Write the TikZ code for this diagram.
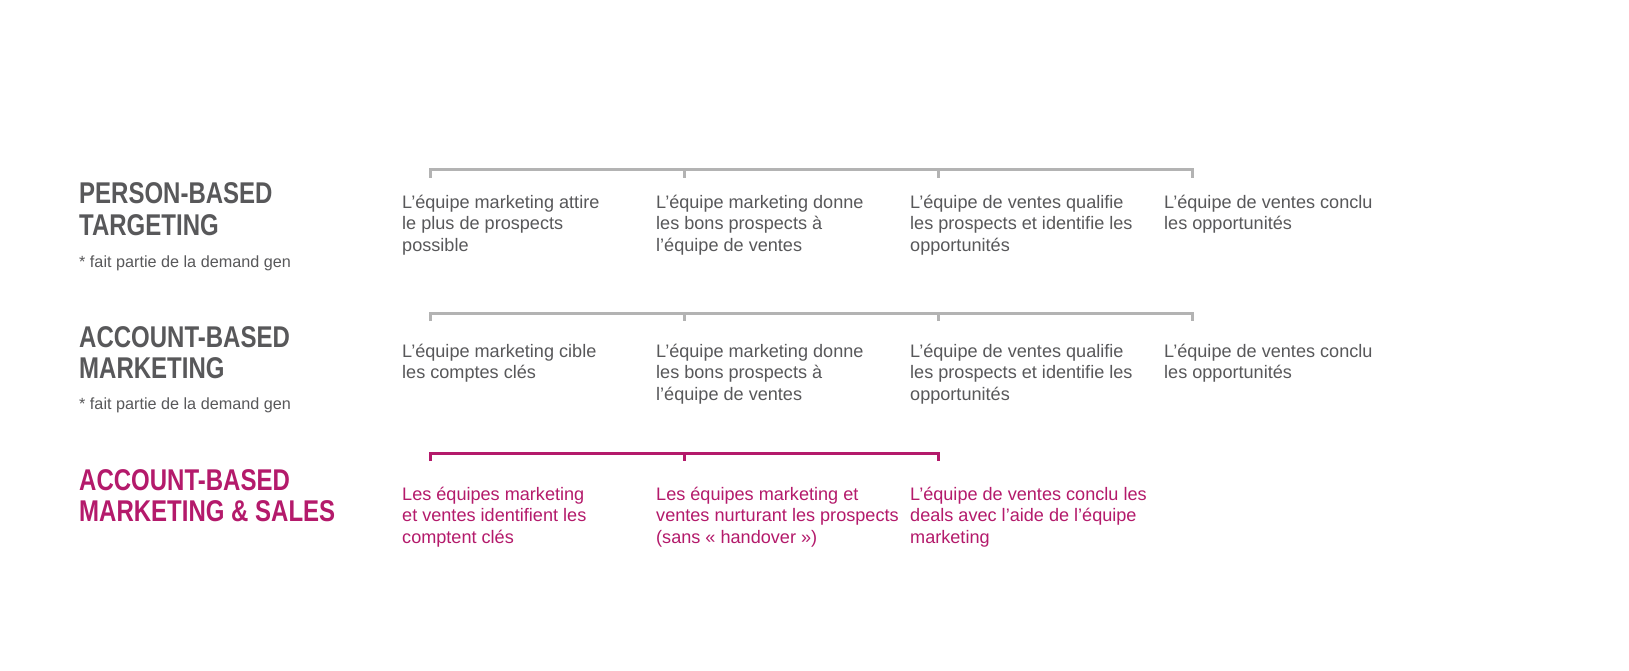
\documentclass[tikz,border=0pt]{standalone}
\usepackage{fontspec}
\setmainfont{Liberation Sans}
\newfontfamily\headfont[FakeStretch=0.8]{Liberation Sans Bold}
\definecolor{txtgray}{HTML}{58585A}
\definecolor{linegray}{HTML}{B3B3B3}
\definecolor{abmred}{HTML}{B41A6B}
% multi-line text whose baseline is that of its first line
\newcommand\toplines[1]{\parbox[t]{320pt}{\raggedright #1}}
\tikzset{
  body/.style={anchor=base west, inner sep=0pt, text=txtgray,
    font=\fontsize{18.1}{21.8}\selectfont},
  bodym/.style={body, text=abmred},
  heading/.style={anchor=base west, inner sep=0pt, text=txtgray,
    font=\headfont\fontsize{30}{31.5}\selectfont},
  headingm/.style={heading, text=abmred},
  note/.style={anchor=base west, inner sep=0pt, text=txtgray,
    font=\fontsize{16.2}{19}\selectfont},
  gbracket/.style={draw=linegray, line width=3pt},
  mbracket/.style={draw=abmred, line width=3pt},
}
\begin{document}
\begin{tikzpicture}[x=1pt,y=-1pt]
\useasboundingbox[fill=white] (0,0) rectangle (1629,671);

% ---------- row 1 ----------
\node[heading] (h1) at (79,204) {\toplines{PERSON-BASED\\TARGETING}};
\node[note] (n1) at (79,267) {* fait partie de la demand gen};
\coordinate (a1) at (430,170);
\coordinate (b1) at (684,170);
\coordinate (c1) at (938,170);
\coordinate (d1) at (1192,170);
\draw[gbracket] ([yshift=-8pt]a1) -- (a1) -- (d1) -- ([yshift=-8pt]d1);
\draw[gbracket] (b1) -- ([yshift=-8pt]b1);
\draw[gbracket] (c1) -- ([yshift=-8pt]c1);
\node[body] (t11) at (402,208) {\toplines{L’équipe marketing attire\\le plus de prospects\\possible}};
\node[body] (t12) at (656,208) {\toplines{L’équipe marketing donne\\les bons prospects à\\l’équipe de ventes}};
\node[body] (t13) at (910,208) {\toplines{L’équipe de ventes qualifie\\les prospects et identifie les\\opportunités}};
\node[body] (t14) at (1164,208) {\toplines{L’équipe de ventes conclu\\les opportunités}};

% ---------- row 2 ----------
\node[heading] (h2) at (79,347) {\toplines{ACCOUNT-BASED\\MARKETING}};
\node[note] (n2) at (79,409) {* fait partie de la demand gen};
\coordinate (a2) at (430,313);
\coordinate (b2) at (684,313);
\coordinate (c2) at (938,313);
\coordinate (d2) at (1192,313);
\draw[gbracket] ([yshift=-8pt]a2) -- (a2) -- (d2) -- ([yshift=-8pt]d2);
\draw[gbracket] (b2) -- ([yshift=-8pt]b2);
\draw[gbracket] (c2) -- ([yshift=-8pt]c2);
\node[body] (t21) at (402,357) {\toplines{L’équipe marketing cible\\les comptes clés}};
\node[body] (t22) at (656,357) {\toplines{L’équipe marketing donne\\les bons prospects à\\l’équipe de ventes}};
\node[body] (t23) at (910,357) {\toplines{L’équipe de ventes qualifie\\les prospects et identifie les\\opportunités}};
\node[body] (t24) at (1164,357) {\toplines{L’équipe de ventes conclu\\les opportunités}};

% ---------- row 3 ----------
\node[headingm] (h3) at (79,490) {\toplines{ACCOUNT-BASED\\MARKETING \& SALES}};
\coordinate (a3) at (430,453);
\coordinate (b3) at (684,453);
\coordinate (c3) at (938,453);
\draw[mbracket] ([yshift=-8pt]a3) -- (a3) -- (c3) -- ([yshift=-8pt]c3);
\draw[mbracket] (b3) -- ([yshift=-8pt]b3);
\node[bodym] (t31) at (402,500) {\toplines{Les équipes marketing\\et ventes identifient les\\comptent clés}};
\node[bodym] (t32) at (656,500) {\toplines{Les équipes marketing et\\ventes nurturant les prospects\\(sans « handover »)}};
\node[bodym] (t33) at (910,500) {\toplines{L’équipe de ventes conclu les\\deals avec l’aide de l’équipe\\marketing}};
\end{tikzpicture}
\end{document}
